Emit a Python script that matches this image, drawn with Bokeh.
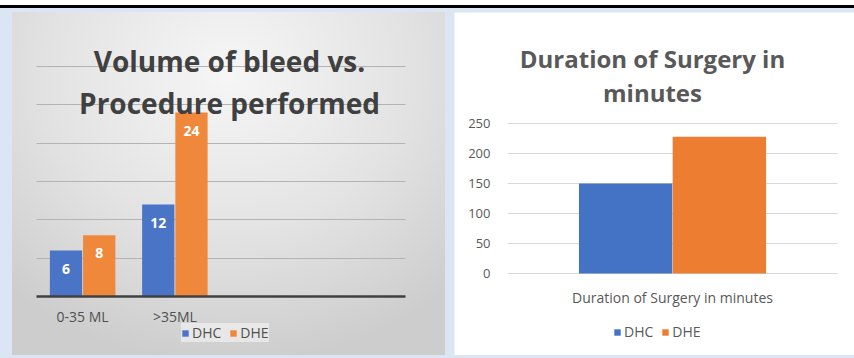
from bokeh.plotting import figure
from bokeh.models import Range1d, FixedTicker, Legend, LegendItem, Label, Div, ColumnDataSource
from bokeh.transform import dodge
from bokeh.layouts import row, column
from bokeh.embed import file_html
from bokeh.resources import INLINE
from bokeh.core.properties import value

# ---------------- data ----------------
bleed_categories = ["0-35 ML", ">35ML"]
bleed_dhc = [6, 12]
bleed_dhe = [8, 24]
bleed_grid_ticks = [0, 5, 10, 15, 20, 25, 30]

duration_category = ["Duration of Surgery in minutes"]
duration_dhc = [150]
duration_dhe = [228]
duration_ticks = [0, 50, 100, 150, 200, 250]

series_names = ["DHC", "DHE"]

bleed_title = ["Volume of bleed vs.", "Procedure performed"]
duration_title = ["Duration of Surgery in", "minutes"]

# ---------------- style ----------------
FONT = "Open Sans"
BLUE_L, ORANGE_L = "#4a74c6", "#f0883c"
BLUE_R, ORANGE_R = "#4472c4", "#ed7d31"
FRAME_BG = "#dbe5f3"


def span_range(lo, hi, px_lo, px_hi, total_px):
    """Extend a data interval [lo, hi] that occupies pixels px_lo..px_hi of a
    total_px-wide frame to the full frame."""
    upp = (hi - lo) / (px_hi - px_lo)
    return Range1d(lo - px_lo * upp, hi + (total_px - px_hi) * upp)


# ---------------- left chart ----------------
W1, H1 = 433, 343
n1 = len(bleed_categories)
slots1 = 4
src1 = ColumnDataSource(dict(
    x=list(range(n1)),
    dhc=bleed_dhc, dhe=bleed_dhe,
    dhc_t=[str(v) for v in bleed_dhc], dhe_t=[str(v) for v in bleed_dhe],
))

p1 = figure(width=W1, height=H1,
            x_range=span_range(-0.5, slots1 - 0.5, 24, 393, W1),
            y_range=span_range(0, max(bleed_grid_ticks), 59, 289, H1),
            output_backend="svg", toolbar_location=None,
            min_border=0,
            border_fill_alpha=0, background_fill_alpha=0, outline_line_color=None,
            styles={"background": "radial-gradient(ellipse 75% 85% at 50% 18%, #f6f6f6 0%, #e3e3e3 55%, #cdcdcd 100%)"})

r1 = p1.vbar(x=dodge("x", -0.18, range=p1.x_range), top="dhc", width=0.35, bottom=0,
             source=src1, fill_color=BLUE_L, line_color=None)
r2 = p1.vbar(x=dodge("x", 0.18, range=p1.x_range), top="dhe", width=0.35, bottom=0,
             source=src1, fill_color=ORANGE_L, line_color=None)

for col, off in (("dhc", -0.18), ("dhe", 0.18)):
    p1.text(x=dodge("x", off, range=p1.x_range), y=col, text=col + "_t", source=src1,
            y_offset=18, text_align="center", text_baseline="middle",
            text_font=value(FONT), text_font_style="bold", text_font_size="14px",
            text_color="white")

p1.yaxis.visible = False
p1.xgrid.visible = False
p1.ygrid.ticker = FixedTicker(ticks=bleed_grid_ticks)
p1.ygrid.cross_bounds = (-0.5, slots1 - 0.5)
p1.ygrid.grid_line_color = "#b3b3b3"
p1.ygrid.grid_line_width = 1

xa = p1.xaxis[0]
xa.fixed_location = 0
xa.bounds = (-0.5, slots1 - 0.5)
xa.ticker = FixedTicker(ticks=list(range(n1)))
xa.major_label_overrides = {i: c for i, c in enumerate(bleed_categories)}
xa.axis_line_color = "#404040"
xa.axis_line_width = 2.5
xa.major_tick_line_color = None
xa.minor_tick_line_color = None
xa.major_label_standoff = 4
xa.major_label_text_font = FONT
xa.major_label_text_font_size = "14px"
xa.major_label_text_color = "#505050"

leg1 = Legend(items=[LegendItem(label=series_names[0], renderers=[r1]),
                     LegendItem(label=series_names[1], renderers=[r2])],
              orientation="horizontal", location=(169, 13),
              glyph_width=8, glyph_height=8, label_standoff=3, spacing=8, padding=6, margin=0,
              background_fill_color="#ebebeb", background_fill_alpha=0.85, border_line_color=None,
              label_text_font=FONT, label_text_font_size="14px", label_text_color="#505050")
p1.add_layout(leg1)

for txt, yy in zip(bleed_title, (295, 253)):
    p1.add_layout(Label(x=217, y=yy, x_units="screen", y_units="screen", text=txt,
                        text_align="center", text_baseline="alphabetic",
                        text_font=FONT, text_font_style="bold", text_font_size="28px",
                        text_color="#404040"))

# ---------------- right chart ----------------
W2, H2 = 400, 343
src2 = ColumnDataSource(dict(x=list(range(len(duration_category))), dhc=duration_dhc, dhe=duration_dhe))

p2 = figure(width=W2, height=H2,
            x_range=span_range(-0.5, len(duration_category) - 0.5, 53, 383, W2),
            y_range=span_range(0, max(duration_ticks), 82, 232, H2),
            output_backend="svg", toolbar_location=None,
            min_border=0,
            background_fill_color="white", border_fill_color="white", outline_line_color=None)

q1 = p2.vbar(x=dodge("x", -0.142, range=p2.x_range), top="dhc", width=0.283, bottom=0,
             source=src2, fill_color=BLUE_R, line_color=None)
q2 = p2.vbar(x=dodge("x", 0.142, range=p2.x_range), top="dhe", width=0.283, bottom=0,
             source=src2, fill_color=ORANGE_R, line_color=None)

p2.xgrid.visible = False
p2.ygrid.ticker = FixedTicker(ticks=duration_ticks)
p2.ygrid.cross_bounds = (-0.5, len(duration_category) - 0.5)
p2.ygrid.grid_line_color = "#d9d9d9"

ya = p2.yaxis[0]
ya.fixed_location = -0.5
ya.bounds = (min(duration_ticks), max(duration_ticks))
ya.ticker = FixedTicker(ticks=duration_ticks)
ya.axis_line_color = None
ya.major_tick_line_color = None
ya.minor_tick_line_color = None
ya.major_label_standoff = 11
ya.major_label_text_font = FONT
ya.major_label_text_font_size = "13px"
ya.major_label_text_color = "#595959"

xb = p2.xaxis[0]
xb.fixed_location = 0
xb.ticker = FixedTicker(ticks=list(range(len(duration_category))))
xb.major_label_overrides = {i: c for i, c in enumerate(duration_category)}
xb.axis_line_color = None
xb.major_tick_line_color = None
xb.minor_tick_line_color = None
xb.major_label_standoff = 8
xb.major_label_text_font = FONT
xb.major_label_text_font_size = "14px"
xb.major_label_text_color = "#595959"

leg2 = Legend(items=[LegendItem(label=series_names[0], renderers=[q1]),
                     LegendItem(label=series_names[1], renderers=[q2])],
              orientation="horizontal", location=(159, 14),
              glyph_width=8, glyph_height=8, label_standoff=3, spacing=8, padding=6, margin=0,
              background_fill_alpha=0, border_line_color=None,
              label_text_font=FONT, label_text_font_size="14px", label_text_color="#595959")
p2.add_layout(leg2)

for txt, yy in zip(duration_title, (297, 263)):
    p2.add_layout(Label(x=198, y=yy, x_units="screen", y_units="screen", text=txt,
                        text_align="center", text_baseline="alphabetic",
                        text_font=FONT, text_font_style="bold", text_font_size="24px",
                        text_color="#595959"))

# ---------------- page layout ----------------
def block(w, h, color):
    return Div(text="", width=w, height=h, margin=0, styles={"background-color": color})

page = column(
    block(854, 5, "white"),
    block(854, 3, "black"),
    block(854, 4, FRAME_BG),
    row(block(12, H1, FRAME_BG), p1, block(9, H1, FRAME_BG), p2, spacing=0,
        styles={"background-color": FRAME_BG}),
    block(854, 3, FRAME_BG),
    spacing=0, styles={"background-color": FRAME_BG},
)

open("out.html", "w").write(file_html(page, INLINE))
